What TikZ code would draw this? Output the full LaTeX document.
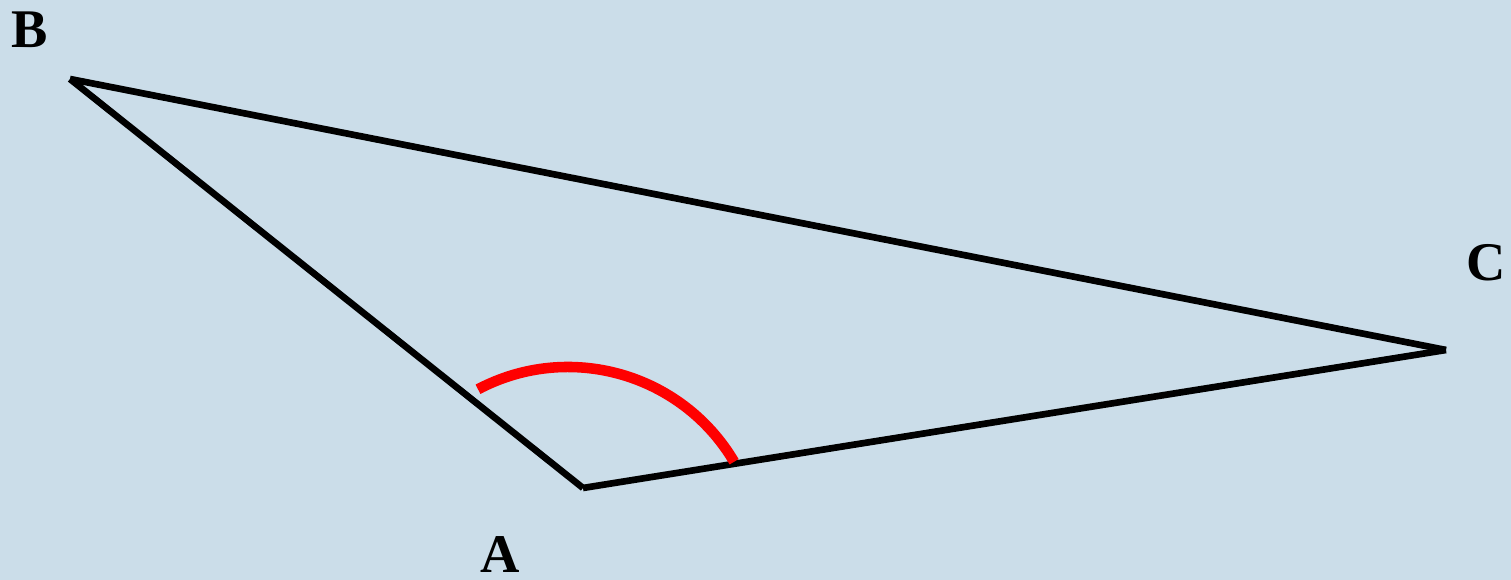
\documentclass[tikz,border=0pt]{standalone}
\usepackage{fontspec}
\setmainfont{Liberation Serif}
\usepackage{tikz}
\usepackage{xcolor}
\usetikzlibrary{calc}
\definecolor{cSky}{RGB}{203,221,233}
\definecolor{cRed}{RGB}{255,0,0}
\tikzset{
	side/.style     ={line width=3.8pt, black},
	anglearc/.style ={line width=6pt, cRed},
	vlabel/.style   ={font=\fontsize{31}{31}\selectfont\bfseries, inner sep=0pt},
}
\begin{document}
\begin{tikzpicture}[x=0.02cm, y=0.02cm]
	% background
	\fill[cSky] (0,0) rectangle (1511,580);
	\useasboundingbox (0,0) rectangle (1511,580);
	% vertices
	\coordinate (B) at (70,501);
	\coordinate (A) at (583,92);
	\coordinate (C) at (1446,230);
	% sides
	\draw[side] (B) -- (C);
	\draw[side] (C) -- (A);
	\draw[side] (A) -- (B);
	% angle at A
	\coordinate (O) at (568,20);
	\draw[anglearc] ($(O)+(117.8:193)$) arc (117.8:30.6:193);
	% labels
	\node[vlabel] (labB) at (29.5,550) {B};
	\node[vlabel] (labA) at (500,25) {A};
	\node[vlabel] (labC) at (1486,317) {C};
\end{tikzpicture}
\end{document}
